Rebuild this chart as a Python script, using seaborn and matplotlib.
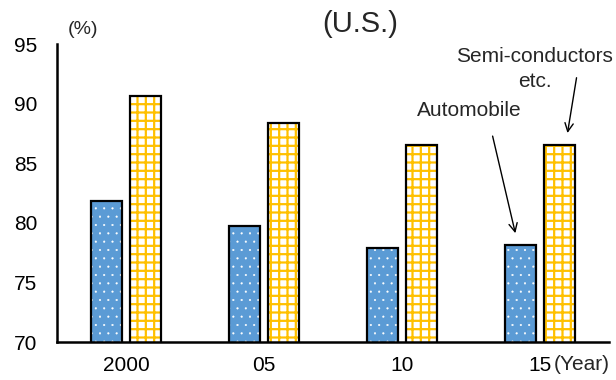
import matplotlib
matplotlib.use('Agg')
import matplotlib.pyplot as plt
from matplotlib.patches import Rectangle
import pandas as pd
import seaborn as sns

# values (share, %)
years = ['2000', '05', '10', '15']
automobile = [81.8, 79.7, 77.9, 78.1]
semiconductors = [90.6, 88.4, 86.5, 86.5]
series_names = ['Automobile', 'Semi-conductors etc.']
y_ticks = [70, 75, 80, 85, 90, 95]

sns.set_style('white')
plt.rcParams['font.family'] = ['Liberation Sans', 'DejaVu Sans']
plt.rcParams['hatch.linewidth'] = 1.6

df = pd.DataFrame({
    'year': years * 2,
    'value': automobile + semiconductors,
    'series': [series_names[0]] * 4 + [series_names[1]] * 4,
})

fig = plt.figure(figsize=(6.16, 3.80), dpi=100)
ax = fig.add_axes([57 / 616, 38 / 380, 552 / 616, 298 / 380])

sns.barplot(data=df, x='year', y='value', hue='series', ax=ax,
            palette=['#5B9BD5', '#FFFFFF'], width=0.572, gap=0.213,
            legend=False, saturation=1)

# hatch patterns and black outlines
n = len(years)
for i, p in enumerate(ax.patches[:2 * n]):
    if i < n:
        p.set_edgecolor('white')
        p.set_hatch('..')
        if hasattr(p, 'set_hatch_linewidth'):
            p.set_hatch_linewidth(0.3)
    else:
        p.set_edgecolor('#FFC000')
        p.set_hatch('++')
    p.set_linewidth(0)
    ax.add_patch(Rectangle(p.get_xy(), p.get_width(), p.get_height(),
                           fill=False, edgecolor='black', linewidth=1.6,
                           zorder=3))

ax.set_xlim(-0.5, 3.5)
ax.set_ylim(70, 95)
ax.set_yticks(y_ticks)
ax.set_xlabel('')
ax.set_ylabel('')
ax.tick_params(axis='y', direction='in', length=6, width=1.5,
               labelsize=15, pad=14, colors='black')
ax.tick_params(axis='x', length=0, labelsize=15, pad=10, colors='black')
sns.despine(ax=ax)
for s in ['left', 'bottom']:
    ax.spines[s].set_color('black')
    ax.spines[s].set_linewidth(1.8)

fig.text(360 / 616, 1 - 24 / 380, '(U.S.)', fontsize=21,
         ha='center', va='center')
fig.text(83 / 616, 1 - 30 / 380, '(%)', fontsize=14,
         ha='center', va='center')
fig.text(554 / 616, 1 - 365 / 380, '(Year)', fontsize=15,
         ha='left', va='center')

ax.text(2.486, 89.4, 'Automobile', fontsize=15, ha='center', va='center')
ax.annotate('', xy=(2.826, 78.9), xytext=(2.652, 87.5),
            arrowprops=dict(arrowstyle='->', color='black', lw=1,
                            mutation_scale=15))
ax.text(2.96, 92.9, 'Semi-conductors\netc.', fontsize=15, ha='center',
        va='center', linespacing=1.35, clip_on=False)
ax.annotate('', xy=(3.196, 87.3), xytext=(3.268, 92.4),
            arrowprops=dict(arrowstyle='->', color='black', lw=1,
                            mutation_scale=15), annotation_clip=False)

fig.savefig('out.png', dpi=100)
